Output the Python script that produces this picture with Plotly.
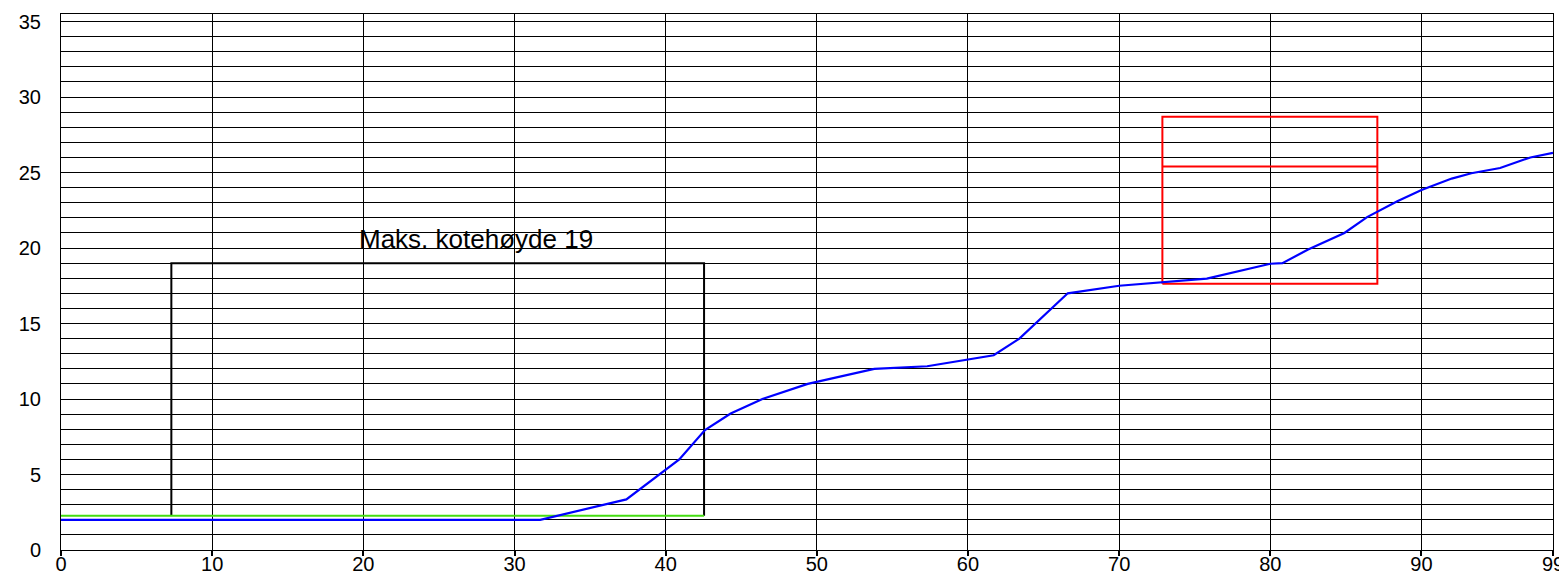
import plotly.graph_objects as go

# Terrain profile (blue)
profile_x = [0, 31.7, 37.4, 40.9, 42.6, 44.3, 46.4, 49.4, 53.8, 57.3, 61.7, 63.4, 66.6, 70.0, 75.8, 80.0, 80.8, 82.5, 84.9, 86.4, 88.4, 90.0, 92.0, 93.3, 95.2, 97.2, 98.7]
profile_y = [2.0, 2.0, 3.35, 6.0, 7.95, 9.04, 10.0, 11.0, 12.0, 12.17, 12.9, 14.0, 17.0, 17.5, 17.97, 18.96, 19.0, 19.9, 21.0, 22.05, 23.1, 23.85, 24.6, 24.95, 25.3, 26.0, 26.3]

# Ground level line (green)
ground_x = [0, 42.54]
ground_y = [2.27, 2.27]

# Max height box (black)
box_x = [7.3, 7.3, 42.54, 42.54]
box_y = [2.27, 19.0, 19.0, 2.27]

# Red building box
red_x = [72.86, 72.86, 87.08, 87.08, 72.86, None, 72.86, 87.08]
red_y = [17.64, 28.7, 28.7, 17.64, 17.64, None, 25.4, 25.4]

label_text = "Maks. kotehøyde 19"
label_pos = (27.44, 20.6)

x_tickvals = [0, 10, 20, 30, 40, 50, 60, 70, 80, 90, 98.7]
x_ticktext = ["0", "10", "20", "30", "40", "50", "60", "70", "80", "90", "99"]
y_tickvals = [0, 5, 10, 15, 20, 25, 30, 35]

FONT = "Liberation Sans, Arial"

fig = go.Figure()
fig.add_trace(go.Scatter(x=box_x, y=box_y, mode="lines", line=dict(color="black", width=2), hoverinfo="skip"))
fig.add_trace(go.Scatter(x=red_x, y=red_y, mode="lines", line=dict(color="#FF0000", width=2), hoverinfo="skip"))
fig.add_trace(go.Scatter(x=ground_x, y=ground_y, mode="lines", line=dict(color="#44DD11", width=2.2), hoverinfo="skip"))
fig.add_trace(go.Scatter(x=profile_x, y=profile_y, mode="lines", line=dict(color="#0000FF", width=2.2), hoverinfo="skip"))

fig.add_annotation(x=label_pos[0], y=label_pos[1], text=label_text, showarrow=False,
                   font=dict(family=FONT, size=26, color="black"))

# The page body has an 8px margin, so the figure is sized/margined to compensate
fig.update_layout(
    width=1559, height=564,
    margin=dict(l=53, r=14, t=6, b=22, autoexpand=False),
    paper_bgcolor="white", plot_bgcolor="white",
    showlegend=False,
    font=dict(family=FONT, size=20, color="black"),
)
fig.update_xaxes(
    range=[0, 98.7], tickvals=x_tickvals, ticktext=x_ticktext,
    tickfont=dict(family=FONT, size=20, color="black"),
    showgrid=True, gridcolor="black", gridwidth=1,
    showline=True, linecolor="black", linewidth=1, mirror=True,
    ticks="outside", ticklen=5, tickcolor="black", tickwidth=2,
    ticklabelstandoff=-9,
    zeroline=False, tickangle=0, automargin=False,
)
fig.update_yaxes(
    range=[0, 35.5], tickvals=y_tickvals,
    tickfont=dict(family=FONT, size=20, color="black"),
    showgrid=True, gridcolor="black", gridwidth=1,
    minor=dict(dtick=1, tick0=0, showgrid=True, gridcolor="black", gridwidth=1),
    showline=True, linecolor="black", linewidth=1, mirror=True,
    ticks="", ticklabelstandoff=15,
    zeroline=False, automargin=False,
)
fig.write_html("out.html")
